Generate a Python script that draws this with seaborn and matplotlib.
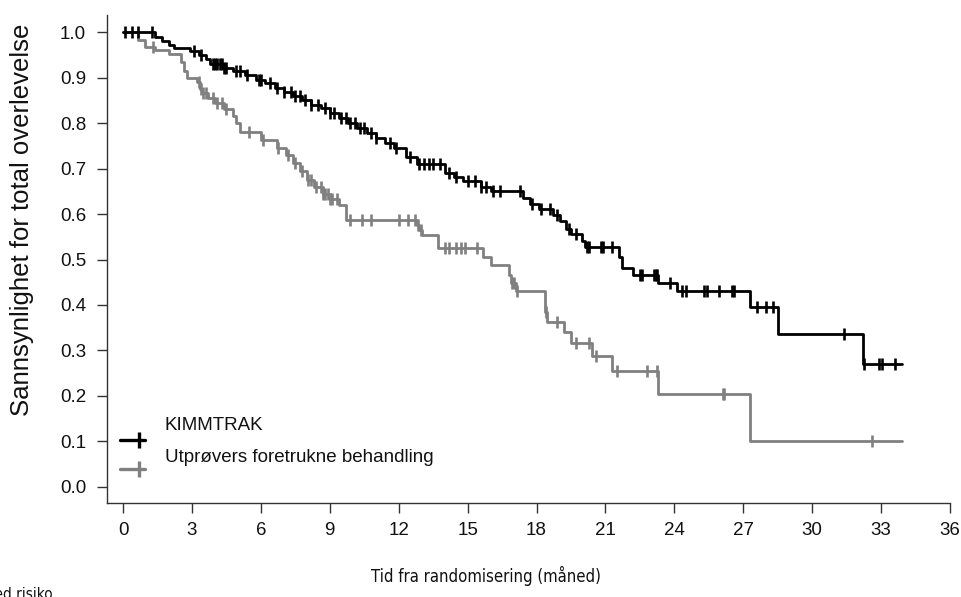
import numpy as np
import pandas as pd
import matplotlib
matplotlib.use("Agg")
import matplotlib.pyplot as plt
import matplotlib.font_manager as fm
import seaborn as sns
from matplotlib.lines import Line2D

# ---------------- data ----------------
kim_label = "KIMMTRAK"
ctl_label = "Utprøvers foretrukne behandling"

kim_t = [0, 1.4, 1.7, 2.0, 2.2, 2.9, 3.3, 3.6, 3.8, 4.4, 4.8, 5.3, 5.8, 6.2, 6.6, 7.0,
         7.4, 7.8, 8.2, 8.6, 9.0, 9.4, 9.8, 10.2, 10.6, 11.0, 11.4, 11.8, 12.3, 12.8,
         14.0, 14.4, 14.8, 15.6, 16.0, 17.4, 17.7, 18.1, 18.7, 19.0, 19.3, 19.5, 20.0,
         20.1, 21.6, 21.7, 22.2, 23.3, 24.1, 27.3, 28.5, 32.2, 33.9]
kim_s = [1.0, 0.99, 0.98, 0.972, 0.965, 0.958, 0.95, 0.94, 0.93, 0.922, 0.915, 0.905,
         0.895, 0.887, 0.878, 0.868, 0.86, 0.85, 0.84, 0.832, 0.822, 0.81, 0.80, 0.79,
         0.778, 0.768, 0.755, 0.745, 0.725, 0.71, 0.69, 0.682, 0.672, 0.66, 0.65, 0.635,
         0.622, 0.612, 0.598, 0.585, 0.567, 0.555, 0.54, 0.527, 0.505, 0.482, 0.465,
         0.448, 0.43, 0.395, 0.336, 0.27, 0.27]
kim_cens = [0.1, 0.4, 0.65, 1.25, 3.1, 3.4, 3.9, 4.0, 4.1, 4.2, 4.3, 4.4, 4.5, 4.9, 5.1,
            5.4, 5.9, 6.0, 6.4, 6.7, 7.0, 7.3, 7.5, 7.7, 7.9, 8.2, 8.5, 8.8, 9.0, 9.2,
            9.5, 9.7, 9.9, 10.1, 10.3, 10.5, 10.8, 11.0, 11.6, 11.9, 12.5, 12.9, 13.1,
            13.3, 13.5, 13.8, 14.2, 14.5, 15.0, 15.3, 15.6, 15.8, 16.1, 16.4, 17.3, 17.8,
            18.2, 18.6, 18.9, 19.4, 19.7, 20.2, 20.3, 20.8, 20.9, 21.3, 22.5, 22.6, 23.1,
            23.2, 23.25, 23.8, 24.35, 24.5, 25.3, 25.4, 25.96, 26.5, 26.6, 27.6, 28.0,
            28.3, 31.4, 32.25, 32.9, 33.05, 33.6]

ctl_t = [0, 0.65, 0.95, 1.4, 2.0, 2.5, 2.65, 2.8, 3.2, 3.35, 3.45, 3.7, 4.0, 4.4, 4.8,
         4.9, 5.1, 6.0, 6.7, 7.1, 7.4, 7.7, 8.0, 8.3, 8.7, 9.0, 9.4, 9.7, 12.8, 12.9,
         13.0, 13.7, 15.65, 16.0, 16.8, 16.9, 17.1, 18.35, 18.45, 19.2, 19.5, 20.4,
         21.3, 23.3, 27.3, 33.9]
ctl_s = [1.0, 0.982, 0.967, 0.96, 0.952, 0.935, 0.915, 0.90, 0.89, 0.875, 0.866, 0.855,
         0.845, 0.83, 0.815, 0.80, 0.78, 0.763, 0.745, 0.73, 0.712, 0.695, 0.675, 0.66,
         0.645, 0.632, 0.62, 0.587, 0.576, 0.565, 0.554, 0.525, 0.505, 0.488, 0.465,
         0.448, 0.43, 0.385, 0.363, 0.34, 0.316, 0.288, 0.255, 0.205, 0.102, 0.102]
ctl_cens = [1.3, 3.3, 3.4, 3.5, 3.6, 3.9, 4.1, 4.3, 4.5, 5.5, 6.1, 6.75, 7.2, 7.5, 7.8,
            8.05, 8.2, 8.4, 8.6, 8.7, 8.8, 8.9, 9.0, 9.1, 9.3, 9.9, 10.4, 10.8, 12.0,
            12.4, 12.7, 12.85, 12.95, 14.0, 14.2, 14.5, 14.7, 14.9, 15.4, 16.95, 17.0,
            17.15, 18.4, 18.9, 19.7, 20.3, 20.6, 21.5, 22.8, 23.25, 26.1, 26.15, 32.6]

x_ticks = list(range(0, 37, 3))
y_ticks = [round(0.1 * i, 1) for i in range(11)]
x_title = "Tid fra randomisering (måned)"
y_title = "Sannsynlighet for total overlevelse"
risk_title = "Antall med risiko"

kim_color = "#000000"
ctl_color = "#808080"


def censor_frame(times, steps_t, steps_s):
    idx = np.searchsorted(np.asarray(steps_t), np.asarray(times), side="right") - 1
    return pd.DataFrame({"t": times, "s": np.asarray(steps_s)[idx]})


def find_narrow_font():
    """Look for an installed condensed/narrow regular sans face."""
    best = None
    for f in fm.fontManager.ttflist:
        name = f.name.lower()
        fname = f.fname.lower()
        narrow = ("narrow" in name or "condensed" in name or "narrow" in fname
                  or "condensed" in fname
                  or str(f.stretch) in ("condensed", "semi-condensed", "extra-condensed"))
        if not narrow:
            continue
        if "bold" in fname or "italic" in fname or "oblique" in fname or "light" in fname \
                or "thin" in fname or "black" in fname or "medium" in fname \
                or "semi" in fname or "extra" in fname or "mono" in name or "serif" in name:
            continue
        if f.weight not in (400, "normal", "regular"):
            continue
        score = 0 if "liberation" in name else (1 if "dejavu" in name else 2)
        if best is None or score < best[0]:
            best = (score, f.fname)
    return best[1] if best else None


# ---------------- plot ----------------
sns.set_theme(style="ticks")
plt.rcParams["font.family"] = ["Liberation Sans", "DejaVu Sans"]

narrow_file = find_narrow_font()
if narrow_file:
    title_fp = fm.FontProperties(fname=narrow_file, size=12)
    risk_fp = fm.FontProperties(fname=narrow_file, size=11)
else:
    title_fp = fm.FontProperties(family=["Liberation Sans", "DejaVu Sans"], size=11.5)
    risk_fp = fm.FontProperties(family=["Liberation Sans", "DejaVu Sans"], size=9.5)

fig = plt.figure(figsize=(9.61, 5.97), dpi=100)
ax = fig.add_axes([107 / 961, 1 - 503 / 597, 843 / 961, 488 / 597])

kim_df = pd.DataFrame({"t": kim_t, "s": kim_s})
ctl_df = pd.DataFrame({"t": ctl_t, "s": ctl_s})

sns.lineplot(data=ctl_df, x="t", y="s", ax=ax, color=ctl_color, lw=2.0,
             drawstyle="steps-post", estimator=None, sort=False)
sns.lineplot(data=kim_df, x="t", y="s", ax=ax, color=kim_color, lw=2.0,
             drawstyle="steps-post", estimator=None, sort=False)

sns.scatterplot(data=censor_frame(ctl_cens, ctl_t, ctl_s), x="t", y="s", ax=ax,
                marker="|", s=85, linewidth=1.9, color=ctl_color, zorder=3)
sns.scatterplot(data=censor_frame(kim_cens, kim_t, kim_s), x="t", y="s", ax=ax,
                marker="|", s=85, linewidth=1.9, color=kim_color, zorder=4)

ax.set_xlim(-0.7, 36)
ax.set_ylim(-0.0352, 1.0374)
ax.set_xticks(x_ticks)
ax.set_yticks(y_ticks)
ax.set_xticklabels([str(v) for v in x_ticks])
ax.set_yticklabels([f"{v:.1f}" for v in y_ticks])
ax.tick_params(axis="both", direction="out", length=7, width=1, color="#333333",
               labelsize=13.5, labelcolor="#111111")
ax.tick_params(axis="y", pad=8)
ax.tick_params(axis="x", pad=7)
for side in ["top", "right"]:
    ax.spines[side].set_visible(False)
for side in ["left", "bottom"]:
    ax.spines[side].set_color("#333333")
    ax.spines[side].set_linewidth(1)
ax.set_xlabel("")
ax.set_ylabel("")

fig.text(22 / 961, 1 - 220 / 597, y_title, rotation=90, ha="center", va="center",
         fontsize=18.5, color="#111111")
fig.text(486 / 961, 1 - 576 / 597, x_title, ha="center", va="center",
         fontproperties=title_fp, color="#111111")
fig.text(53 / 961, 1 - 587 / 597, risk_title, ha="right", va="top",
         fontproperties=risk_fp, color="#111111")

# legend (R-style, key below the label)
tr = ax.transAxes
def ax_x(px):
    return (px - 107) / 843
def ax_y(py):
    return (503 - py) / 488

for label, col, ty, ky in [(kim_label, kim_color, 425, 440), (ctl_label, ctl_color, 458, 469)]:
    ax.add_line(Line2D([ax_x(120), ax_x(145)], [ax_y(ky), ax_y(ky)], transform=tr,
                       color=col, lw=2.4))
    ax.add_line(Line2D([ax_x(139)], [ax_y(ky)], transform=tr, color=col, marker="|",
                       markersize=12, markeredgewidth=2.4))
    ax.text(ax_x(165), ax_y(ty), label, transform=tr, ha="left", va="center",
            fontsize=13.5, color="#111111")

fig.savefig("out.png", dpi=100)
